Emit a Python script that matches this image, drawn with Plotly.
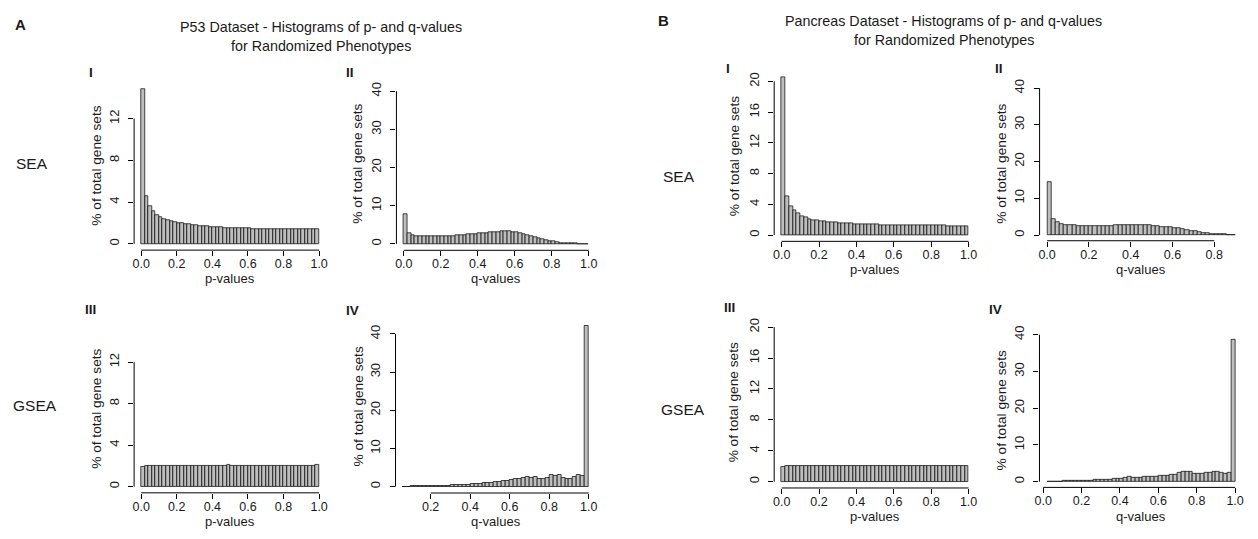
import plotly.graph_objects as go

W, H = 1258, 539
OFF = 8  # default page margin around the plot div

# ---------------- data (% of total gene sets per bin) ----------------
bin_width = 0.02

p53_sea_p_start = 0.0
p53_sea_p = [14.8, 4.57, 3.63, 3.1, 2.78, 2.52, 2.37, 2.27, 2.18, 2.08,
             2.02, 1.96, 1.91, 1.86, 1.82, 1.78, 1.74, 1.70, 1.67, 1.64,
             1.61, 1.59, 1.57, 1.55, 1.53, 1.52, 1.51, 1.50, 1.49, 1.48,
             1.47, 1.46, 1.45, 1.45, 1.44, 1.44, 1.43, 1.43, 1.42, 1.42,
             1.41, 1.41, 1.40, 1.40, 1.40, 1.39, 1.39, 1.39, 1.38, 1.38]

p53_sea_q_start = 0.0
p53_sea_q = [7.7, 2.75, 2.3, 2.15, 2.05, 2.0, 2.0, 2.0, 2.0, 2.05,
             2.05, 2.1, 2.1, 2.15, 2.2, 2.25, 2.35, 2.45, 2.5, 2.6,
             2.7, 2.8, 2.9, 3.0, 3.1, 3.2, 3.3, 3.35, 3.3, 3.2,
             3.0, 2.8, 2.55, 2.3, 2.0, 1.75, 1.5, 1.25, 1.0, 0.8,
             0.6, 0.45, 0.3, 0.22, 0.15, 0.1, 0.07, 0.05, 0.04, 0.03]

p53_gsea_p_start = 0.0
p53_gsea_p = [1.92, 2.03, 2.02, 2.01, 2.02, 2.0, 2.01, 2.02, 2.0, 2.03,
              2.02, 2.0, 2.01, 2.02, 2.0, 2.01, 2.0, 2.02, 2.01, 2.0,
              2.02, 2.01, 2.0, 2.03, 2.06, 2.0, 2.01, 2.02, 2.0, 2.01,
              2.0, 2.02, 2.01, 2.0, 2.01, 2.02, 2.0, 2.01, 2.03, 2.0,
              2.01, 2.0, 2.02, 2.01, 2.0, 2.01, 2.02, 2.0, 2.01, 2.1]

p53_gsea_q_start = 0.06
p53_gsea_q = [0.05, 0.06, 0.07, 0.08, 0.1, 0.12, 0.14,
              0.17, 0.2, 0.23, 0.26, 0.3,
              0.33, 0.37, 0.42, 0.5, 0.55,
              0.65, 0.72, 0.8, 0.9, 1.0,
              1.1, 1.15, 1.25, 1.5, 1.45,
              1.85, 1.95, 2.0, 2.2, 2.6,
              2.35, 2.5, 2.0, 2.1, 2.3,
              3.1, 2.8, 3.0, 2.3, 1.95,
              2.0, 2.5, 3.1, 2.8, 42.0]

panc_sea_p_start = 0.0
panc_sea_p = [20.5, 5.04, 3.76, 3.2, 2.78, 2.48, 2.26, 2.09, 1.97, 1.88,
              1.82, 1.76, 1.71, 1.66, 1.62, 1.58, 1.55, 1.52, 1.49, 1.46,
              1.44, 1.42, 1.40, 1.38, 1.36, 1.35, 1.33, 1.32, 1.31, 1.30,
              1.29, 1.28, 1.27, 1.27, 1.26, 1.25, 1.25, 1.24, 1.24, 1.23,
              1.23, 1.22, 1.22, 1.22, 1.21, 1.21, 1.21, 1.20, 1.20, 1.20]

panc_sea_q_start = 0.0
panc_sea_q = [14.3, 4.3, 3.4, 2.95, 2.75, 2.65, 2.6, 2.55, 2.5, 2.5,
              2.45, 2.45, 2.45, 2.5, 2.5, 2.55, 2.6, 2.65, 2.7, 2.8,
              2.85, 2.8, 2.75, 2.7, 2.65, 2.55, 2.45, 2.3, 2.15, 2.05,
              1.95, 1.8, 1.6, 1.4, 1.15, 0.95, 0.75, 0.55, 0.45, 0.35,
              0.25, 0.2, 0.15, 0.1, 0.08]

panc_gsea_p_start = 0.0
panc_gsea_p = [1.95, 2.02, 2.01, 2.0, 2.02, 2.01, 2.0, 2.02, 2.01, 2.0,
               2.01, 2.02, 2.0, 2.01, 2.0, 2.02, 2.01, 2.0, 2.01, 2.02,
               2.0, 2.01, 2.02, 2.0, 2.05, 2.01, 2.0, 2.02, 2.01, 2.0,
               2.01, 2.0, 2.02, 2.01, 2.0, 2.01, 2.0, 2.02, 2.01, 2.0,
               2.01, 2.02, 2.0, 2.01, 2.0, 2.01, 2.0, 2.01, 2.02, 2.1]

panc_gsea_q_start = 0.02
panc_gsea_q = [0.08, 0.1, 0.1, 0.12, 0.13, 0.15, 0.17, 0.2, 0.25,
               0.3, 0.3, 0.38, 0.45, 0.42, 0.55, 0.6, 0.62, 0.85, 0.8,
               0.8, 1.05, 1.3, 1.2, 1.15, 1.2, 1.45, 1.3, 1.4, 1.45,
               1.5, 1.7, 1.75, 1.8, 2.0, 2.35, 2.6, 2.7, 2.8, 2.2,
               2.15, 2.05, 2.45, 2.4, 2.75, 2.65, 2.55, 2.1, 2.5, 38.7]

ticks_unit = [0.0, 0.2, 0.4, 0.6, 0.8, 1.0]
ticks_q_p53_gsea = [0.2, 0.4, 0.6, 0.8, 1.0]
ticks_q_panc_sea = [0.0, 0.2, 0.4, 0.6, 0.8]
y_ticks_p53_p = [0, 4, 8, 12]
y_ticks_q = [0, 10, 20, 30, 40]
y_ticks_panc_p = [0, 4, 8, 12, 16, 20]

y_title = "% of total gene sets"

# ---------------- layout of the panels (pixel boxes in the page) ----------------
panels = [
    dict(v=p53_sea_p, s=p53_sea_p_start, xt=ticks_unit, yt=y_ticks_p53_p, ymax=14.9,
         xtitle="p-values", roman="I", box=(129.8, 323.0, 76.0, 246.3), rpos=(86, 66), ytx=92),
    dict(v=p53_sea_q, s=p53_sea_q_start, xt=ticks_unit, yt=y_ticks_q, ymax=42.0,
         xtitle="q-values", roman="II", box=(393.6, 594.4, 71.0, 246.5), rpos=(347, 66), ytx=355),
    dict(v=p53_gsea_p, s=p53_gsea_p_start, xt=ticks_unit, yt=y_ticks_p53_p, ymax=14.9,
         xtitle="p-values", roman="III", box=(129.8, 323.0, 323.0, 492.3), rpos=(86, 307), ytx=92),
    dict(v=p53_gsea_q, s=p53_gsea_q_start, xt=ticks_q_p53_gsea, yt=y_ticks_q, ymax=42.0,
         xtitle="q-values", roman="IV", box=(392.7, 594.5, 317.0, 492.5), rpos=(349, 308), ytx=355),
    dict(v=panc_sea_p, s=panc_sea_p_start, xt=ticks_unit, yt=y_ticks_panc_p, ymax=20.5,
         xtitle="p-values", roman="I", box=(773.5, 976.5, 65.0, 237.4), rpos=(727, 62), ytx=733),
    dict(v=panc_sea_q, s=panc_sea_q_start, xt=ticks_q_panc_sea, yt=y_ticks_q, ymax=39.0,
         xtitle="q-values", roman="II", box=(1040.4, 1244.6, 80.0, 236.8), rpos=(1000, 62), ytx=1002),
    dict(v=panc_gsea_p, s=panc_gsea_p_start, xt=ticks_unit, yt=y_ticks_panc_p, ymax=20.5,
         xtitle="p-values", roman="III", box=(773.5, 976.5, 314.0, 487.4), rpos=(729, 304), ytx=733),
    dict(v=panc_gsea_q, s=panc_gsea_q_start, xt=ticks_unit, yt=y_ticks_q, ymax=39.0,
         xtitle="q-values", roman="IV", box=(1040.3, 1244.6, 330.0, 486.8), rpos=(996, 306), ytx=1002),
]

FONT = "Liberation Sans, Arial, sans-serif"
INK = "#1a1a1a"
FW, FH = W - 2 * OFF, H - 2 * OFF


def px(x):
    return (x - OFF) / FW


def py(y):
    return 1 - (y - OFF) / FH


fig = go.Figure()
shapes = []
annotations = []
layout = {}

for k, p in enumerate(panels, start=1):
    xa = "x" if k == 1 else f"x{k}"
    ya = "y" if k == 1 else f"y{k}"
    n = len(p["v"])
    centers = [p["s"] + bin_width * (i + 0.5) for i in range(n)]
    fig.add_trace(go.Bar(
        x=centers, y=p["v"], width=[bin_width] * n,
        marker=dict(color="#bebebe", line=dict(color="black", width=0.7)),
        xaxis=xa, yaxis=ya, showlegend=False, hoverinfo="x+y",
    ))
    L, R, T, B = p["box"]
    xlo = p["s"]
    xhi = p["s"] + bin_width * n
    span = xhi - xlo
    layout[f"xaxis{k}" if k > 1 else "xaxis"] = dict(
        domain=[px(L), px(R)], range=[xlo - 0.04 * span, xhi + 0.04 * span],
        anchor=ya, showgrid=False, zeroline=False, showline=False,
        ticks="outside", ticklen=5, tickwidth=1, tickcolor="black",
        ticklabelstandoff=-3,
        tickvals=p["xt"], ticktext=[f"{t:.1f}" for t in p["xt"]],
        tickfont=dict(family=FONT, size=12.5, color=INK), fixedrange=True,
    )
    layout[f"yaxis{k}" if k > 1 else "yaxis"] = dict(
        domain=[py(B), py(T)], range=[-0.04 * p["ymax"], 1.04 * p["ymax"]],
        anchor=xa, showgrid=False, zeroline=False, showline=False,
        ticks="outside", ticklen=5, tickwidth=1, tickcolor="black",
        ticklabelstandoff=4,
        tickvals=p["yt"], ticktext=[str(t) for t in p["yt"]], tickangle=-90,
        tickfont=dict(family=FONT, size=13, color=INK), fixedrange=True,
    )
    # R-style axis lines that only span the tick range
    shapes.append(dict(type="line", xref="paper", yref=ya, x0=px(L), x1=px(L),
                       y0=p["yt"][0], y1=p["yt"][-1], line=dict(color="black", width=1)))
    shapes.append(dict(type="line", xref=xa, yref="paper", x0=p["xt"][0], x1=p["xt"][-1],
                       y0=py(B), y1=py(B), line=dict(color="black", width=1)))
    # axis titles
    annotations.append(dict(text=p["xtitle"], xref="paper", yref="paper",
                            x=px((L + R) / 2), y=py(B + 29), showarrow=False,
                            font=dict(family=FONT, size=13, color=INK),
                            xanchor="center", yanchor="middle"))
    annotations.append(dict(text=y_title, xref="paper", yref="paper",
                            x=px(p["ytx"]), y=py((T + B) / 2), showarrow=False, textangle=-90,
                            font=dict(family=FONT, size=13.7, color=INK),
                            xanchor="center", yanchor="middle"))
    annotations.append(dict(text=f"<b>{p['roman']}</b>", xref="paper", yref="paper",
                            x=px(p["rpos"][0]), y=py(p["rpos"][1]), showarrow=False,
                            font=dict(family=FONT, size=13.5, color=INK),
                            xanchor="center", yanchor="middle"))

# titles and labels
texts = [
    ("<b>A</b>", 16, 18, 15),
    ("<b>B</b>", 662, 14, 15),
    ("P53 Dataset - Histograms of p- and q-values", 318, 20, 14.3),
    ("for Randomized Phenotypes", 318, 39, 14.3),
    ("Pancreas Dataset - Histograms of p- and q-values", 944, 14, 14.3),
    ("for Randomized Phenotypes", 944, 33, 14.3),
    ("SEA", 27, 159, 15.5),
    ("GSEA", 30, 404, 15.5),
    ("SEA", 678, 172, 15.5),
    ("GSEA", 682, 408, 15.5),
]
for t, x, y, s in texts:
    annotations.append(dict(text=t, xref="paper", yref="paper", x=px(x), y=py(y),
                            showarrow=False, font=dict(family=FONT, size=s, color=INK),
                            xanchor="center", yanchor="middle"))

fig.update_layout(
    width=FW, height=FH, margin=dict(l=0, r=0, t=0, b=0),
    paper_bgcolor="white", plot_bgcolor="white",
    bargap=0, shapes=shapes, annotations=annotations,
    **layout,
)

fig.write_html("out.html")
